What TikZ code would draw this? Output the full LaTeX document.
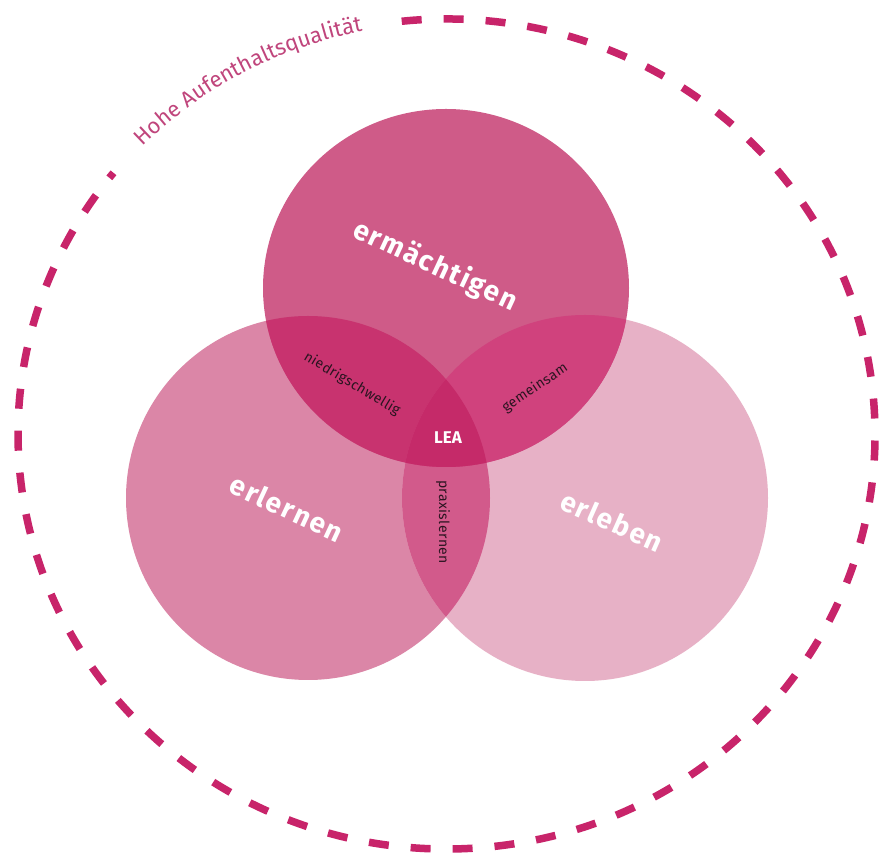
\documentclass[tikz,border=0pt]{standalone}
\usepackage{fontspec}
\setmainfont{Fira Sans}
\usetikzlibrary{decorations.text}

% palette
\definecolor{ringcol}{HTML}{C8246A}
\definecolor{ringtext}{HTML}{C0457C}
\definecolor{topcol}{HTML}{CF5B88}
\definecolor{leftcol}{HTML}{DB86A7}
\definecolor{rightcol}{HTML}{E7B1C6}
\definecolor{tlcol}{HTML}{C8336F}
\definecolor{trcol}{HTML}{D0427D}
\definecolor{lrcol}{HTML}{D25A8B}
\definecolor{midcol}{HTML}{C52A69}
\definecolor{smalltext}{HTML}{2A1420}

\tikzset{
  ring/.style={draw=ringcol, line width=7.5pt, dash pattern=on 20pt off 22pt},
  biglabel/.style={text=white, font=\fontsize{28}{30}\selectfont\bfseries\addfontfeature{LetterSpace=6}},
  smalllabel/.style={text=smalltext, font=\fontsize{14}{15}\selectfont\addfontfeature{LetterSpace=3}},
  centerlabel/.style={text=white, font=\fontsize{17}{18}\selectfont\bfseries}
}

\begin{document}
\begin{tikzpicture}[x=1pt,y=1pt]
\useasboundingbox (0,0) rectangle (887,854);
\fill[white] (0,0) rectangle (887,854);

% centres
\coordinate (O) at (446.5,420);
\coordinate (T) at (446,566);
\coordinate (L) at (308,356);
\coordinate (R) at (585,356);

% the three circles
\fill[leftcol]  (L) circle[radius=182];
\fill[rightcol] (R) circle[radius=183];
\fill[topcol]   (T) circle[x radius=183, y radius=179];

% pairwise overlaps
\begin{scope}
  \clip (L) circle[radius=182];
  \fill[lrcol] (R) circle[radius=183];
\end{scope}
\begin{scope}
  \clip (T) circle[x radius=183, y radius=179];
  \fill[tlcol] (L) circle[radius=182];
\end{scope}
\begin{scope}
  \clip (T) circle[x radius=183, y radius=179];
  \fill[trcol] (R) circle[radius=183];
\end{scope}
% common centre
\begin{scope}
  \clip (T) circle[x radius=183, y radius=179];
  \clip (L) circle[radius=182];
  \fill[midcol] (R) circle[radius=183];
\end{scope}

% outer dashed ring, open where the caption runs
\draw[ring] ([shift={(96:428.5 and 415)}]O)
  arc[start angle=96, end angle=-219, x radius=428.5, y radius=415];

% caption along the ring
\path[decorate, decoration={text along path, text align=center,
  text={|\fontsize{22}{24}\selectfont\color{ringtext}|Hohe Aufenthaltsqualität}}]
  ([shift={(139:425 and 411)}]O)
  arc[start angle=139, end angle=98, x radius=425, y radius=411];

% circle labels
\node[biglabel, rotate=-25] (erm) at (435,588) {ermächtigen};
\node[biglabel, rotate=-25] (erl) at (287,346) {erlernen};
\node[biglabel, rotate=-24] (erb) at (612,333) {erleben};

% overlap labels
\node[smalllabel, rotate=-31] (nie) at (352,470) {niedrigschwellig};
\node[smalllabel, rotate=34]  (gem) at (535,466) {gemeinsam};
\node[smalllabel, rotate=-90] (pra) at (443,332) {praxislernen};
\node[centerlabel] (lea) at (448,416) {LEA};
\end{tikzpicture}
\end{document}
